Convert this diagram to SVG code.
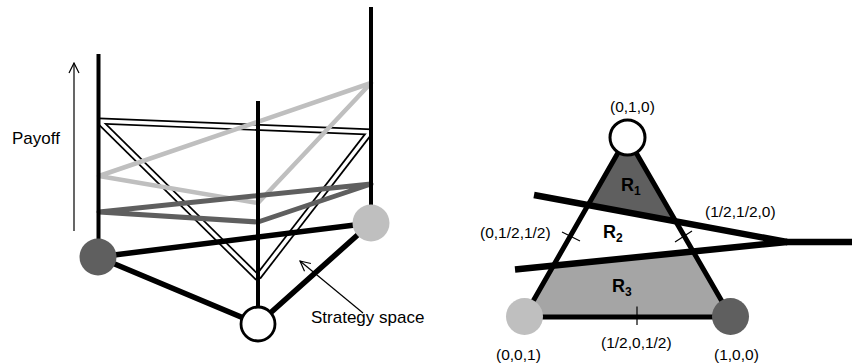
<svg xmlns="http://www.w3.org/2000/svg" width="852" height="364" viewBox="0 0 852 364">
<defs>
<style>
text{font-family:"Liberation Sans",Arial,sans-serif;fill:#000}
.lbl{font-size:15.5px}
.big{font-size:17px}
.reg{font-size:18px;font-weight:bold}
.sub{font-size:12px;font-weight:bold}
.thin{stroke:#000;stroke-width:1.2;fill:none}
.post{stroke:#000;stroke-width:4;fill:none}
.base{stroke:#000;stroke-width:5.5;fill:none;stroke-linecap:round}
.tick{stroke:#000;stroke-width:1.2;fill:none}
.dbl-o{stroke:#000;stroke-width:7;fill:none}
.dbl-i{stroke:#fff;stroke-width:3.6;fill:none}
</style>
<marker id="open" viewBox="0 0 12 12" refX="11" refY="6" markerWidth="12" markerHeight="12" markerUnits="userSpaceOnUse" orient="auto">
<path d="M1,1 L11,6 L1,11" fill="none" stroke="#000" stroke-width="1.2"/>
</marker>
</defs>
<rect width="852" height="364" fill="#fff"/>

<!-- Left figure -->
<g id="payoff-surfaces">
<line class="dbl-o" x1="99" y1="121" x2="372" y2="132"/>
<line class="dbl-o" x1="100" y1="122" x2="258" y2="278"/>
<line class="dbl-o" x1="370" y1="132" x2="258" y2="277"/>
<line class="dbl-i" x1="99" y1="121" x2="372" y2="132"/>
<line class="dbl-i" x1="100" y1="122" x2="258" y2="278"/>
<line class="dbl-i" x1="370" y1="132" x2="258" y2="277"/>
<polygon points="99,176 258,203 371,83" fill="none" stroke="#bfbfbf" stroke-width="4.5" stroke-linejoin="round"/>
<polygon points="99,212 258,222 371,184" fill="none" stroke="#5f5f5f" stroke-width="5" stroke-linejoin="round"/>
</g>
<g id="posts">
<line class="post" x1="98.5" y1="54" x2="98.5" y2="257"/>
<line class="post" x1="258" y1="101" x2="258" y2="324"/>
<line class="post" x1="371" y1="7" x2="371" y2="223"/>
</g>
<g id="connectors">
<line class="base" x1="98" y1="257" x2="371" y2="223"/>
<line class="base" x1="98" y1="257" x2="258" y2="324"/>
<line class="base" x1="258" y1="324" x2="371" y2="223"/>
<line class="thin" x1="74" y1="231" x2="74" y2="63" marker-end="url(#open)"/>
<line class="thin" x1="363" y1="313" x2="300" y2="261" marker-end="url(#open)"/>
</g>
<g id="node-left-dark"><circle cx="98" cy="257" r="18.5" fill="#5f5f5f"/></g>
<g id="node-left-white"><circle cx="258" cy="324" r="17" fill="#fff" stroke="#000" stroke-width="2.8"/></g>
<g id="node-left-light"><circle cx="371" cy="223" r="18.5" fill="#bfbfbf"/></g>
<g id="label-payoff"><text class="big" x="12" y="144">Payoff</text></g>
<g id="label-strategy"><text class="big" x="311" y="323">Strategy space</text></g>

<!-- Right figure -->
<g id="simplex">
<polygon points="627,137 675.7,221.3 588.1,205" fill="#5f5f5f"/>
<polygon points="553.7,265.2 693.1,251.4 731,317 524,317" fill="#a5a5a5"/>
<polygon points="524,317 627,137 731,317" fill="none" stroke="#000" stroke-width="5"/>
<line x1="534" y1="195" x2="787" y2="242" stroke="#000" stroke-width="6.5"/>
<line x1="515" y1="269.5" x2="787" y2="242" stroke="#000" stroke-width="6.5"/>
<line x1="786" y1="242" x2="852" y2="242" stroke="#000" stroke-width="6.5"/>
<line class="tick" x1="562" y1="232" x2="580" y2="241"/>
<line class="tick" x1="675" y1="242" x2="692" y2="231"/>
<line class="tick" x1="637" y1="306.5" x2="637" y2="325"/>
</g>
<g id="node-top"><circle cx="627.5" cy="137.5" r="17.5" fill="#fff" stroke="#000" stroke-width="3"/></g>
<g id="node-bl"><circle cx="524.5" cy="316.5" r="18.5" fill="#bfbfbf"/></g>
<g id="node-br"><circle cx="730.5" cy="316.5" r="18.5" fill="#5f5f5f"/></g>

<g id="labels-right">
<text class="lbl" x="610" y="112">(0,1,0)</text>
<text class="lbl" x="705" y="217">(1/2,1/2,0)</text>
<text class="lbl" x="480" y="238">(0,1/2,1/2)</text>
<text class="lbl" x="601" y="348">(1/2,0,1/2)</text>
<text class="lbl" x="496" y="360">(0,0,1)</text>
<text class="lbl" x="714" y="360">(1,0,0)</text>
<text class="reg" x="621" y="191">R<tspan class="sub" dy="4">1</tspan></text>
<text class="reg" x="603" y="238">R<tspan class="sub" dy="4">2</tspan></text>
<text class="reg" x="612" y="292">R<tspan class="sub" dy="4">3</tspan></text>
</g>
</svg>
